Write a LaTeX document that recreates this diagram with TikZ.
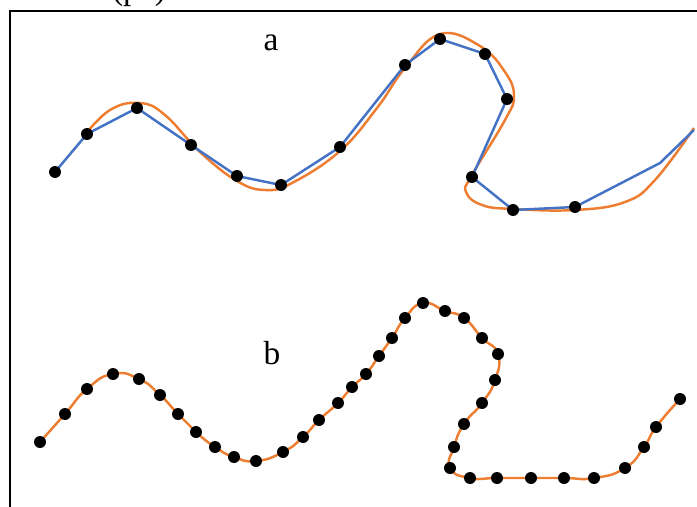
\documentclass[tikz,border=0pt]{standalone}
\usepackage{fontspec}
\setmainfont{Liberation Serif}
\usepackage{xcolor}
\usepackage{tikz}
\usetikzlibrary{positioning}

\definecolor{fitorange}{RGB}{237,125,49}
\definecolor{polyblue}{RGB}{68,114,196}

\begin{document}
\begin{tikzpicture}[x=0.02cm, y=-0.02cm,
    dot/.style={circle, fill=black, inner sep=0pt, minimum size=0.24cm},
    fitline/.style={fitorange, line width=1.4pt},
    polyline/.style={polyblue, line width=1.4pt},
    lbl/.style={font=\fontsize{19}{22}\selectfont}]
          \useasboundingbox (0,0) rectangle (697,507);
          \clip (0,0) rectangle (697,507);

          % frame and caption (cut off at the top)
          \draw[line width=1.4pt] (10,11) rectangle (720,530);
          \node[lbl, anchor=base] (caption) at (139,-1) {(pa)};

          % a: few samples, polyline against the smooth curve
          \coordinate (a1) at (55,172);
          \coordinate (a2) at (87,134);
          \coordinate (a3) at (137,108);
          \coordinate (a4) at (191,145);
          \coordinate (a5) at (237,176);
          \coordinate (a6) at (281,185);
          \coordinate (a7) at (340,147);
          \coordinate (a8) at (405,65);
          \coordinate (a9) at (440,39);
          \coordinate (a10) at (485,54);
          \coordinate (a11) at (507,99);
          \coordinate (a12) at (472,177);
          \coordinate (a13) at (513,210);
          \coordinate (a14) at (575,207);
          \coordinate (a15) at (660,163);
          \coordinate (a16) at (694,130);

          \draw[fitline] plot[smooth, tension=0.7] coordinates {(83,137) (110,110)
            (140,103) (165,115) (200,152) (237,181) (265,190) (292,183) (340,151)
            (377,108) (405,68) (440,34) (480,46) (505,72) (514,96) (505,120) (472,175)
            (466,192) (482,205) (513,209) (575,210) (625,202) (655,180) (694,128)};
          \draw[polyline] (a1) -- (a2) -- (a3) -- (a4) -- (a5) -- (a6) -- (a7) -- (a8)
            -- (a9) -- (a10) -- (a11) -- (a12) -- (a13) -- (a14) -- (a15) -- (a16);
          \foreach \i in {1,...,14}
            \node[dot] (da\i) at (a\i) {};
          \node[lbl] (labela) at (271,43) {a};

          % b: dense samples on the curve
          \foreach \px/\py [count=\i] in {40/442, 65/414, 87/389, 113/374, 139/379, 160/395,
              178/414, 196/432, 215/447, 234/457, 256/461, 283/452, 303/437, 319/420,
              338/403, 352/387, 366/374, 379/356, 392/338, 405/318, 423/303, 445/311,
              464/318, 482/338, 498/354, 495/380, 482/403, 464/424, 454/447, 450/468,
              470/478, 497/478, 531/478, 564/478, 594/478, 625/468, 644/447, 656/427,
              680/399}
            \coordinate (b\i) at (\px,\py);
          \draw[fitline] plot[smooth, tension=0.9] coordinates {(b1) (b2) (b3) (b4) (b5)
            (b6) (b7) (b8) (b9) (b10) (b11) (b12) (b13) (b14) (b15) (b16) (b17) (b18) (b19)
            (b20) (b21) (b22) (b23) (b24) (b25) (b26) (b27) (b28) (b29) (b30) (b31) (b32)
            (b33) (b34) (b35) (b36) (b37) (b38) (b39)};
          \foreach \i in {1,...,39}
            \node[dot] (db\i) at (b\i) {};
          \node[lbl] (labelb) at (272,353) {b};
        \end{tikzpicture}
\end{document}
